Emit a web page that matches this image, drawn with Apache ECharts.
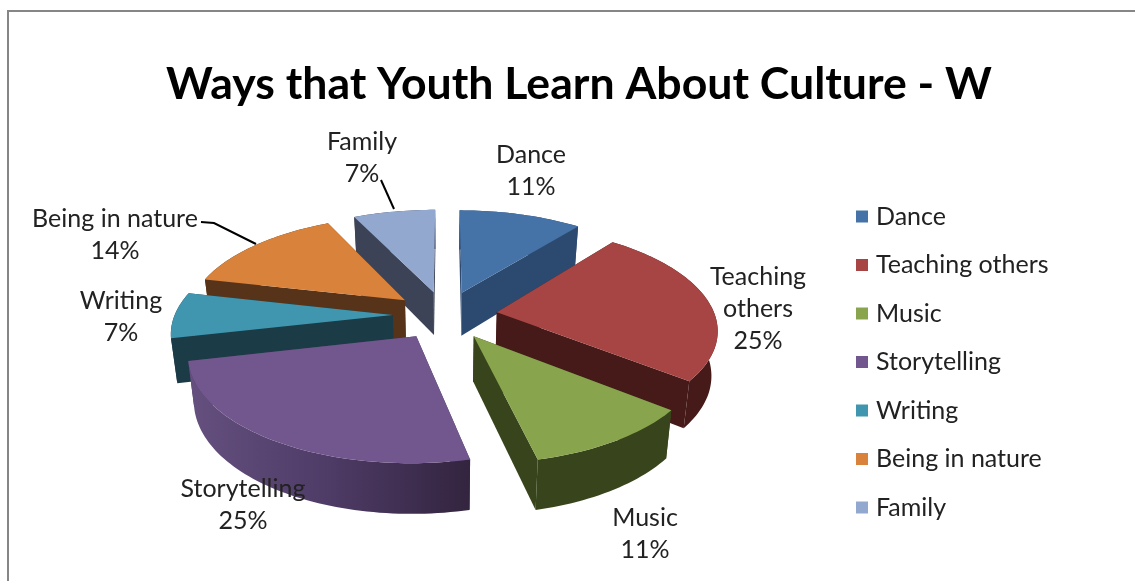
<!DOCTYPE html>
<html><head><meta charset="utf-8">
<style>html,body{margin:0;padding:0;background:#fff}#c{width:1135px;height:581px}</style>
<script src="https://cdn.jsdelivr.net/npm/echarts@6/dist/echarts.min.js"></script>
</head><body><div id="c"></div>
<script>
const chartTitle = 'Ways that Youth Learn About Culture - W';
const categories = ['Dance','Teaching others','Music','Storytelling','Writing','Being in nature','Family'];
const shares = [3,7,3,7,2,4,2];
const topColors = ['#4572A7','#A64543','#88A44C','#71578D','#3F96AE','#D8823B','#93A8CF'];
const wallColors = ['#2C4A70','#451A18','#38451C','#4A3660','#1B3B47','#57331A','#3C4356'];
const labelLines = [['Dance'],['Teaching','others'],['Music'],['Storytelling'],['Writing'],['Being in nature'],['Family']];
const labelAnchors = [[531,155],[758,277],[645,518],[243,489],[121,301],[115,219],[362,142]];

// perspective view of the exploded pie
const V = {cx:445, cy:315, a:218, b:101, p:0.15, e:0.24, d:44, taper:0.977};
const total = shares.reduce((s,v)=>s+v,0);
const starts = shares.map((_,i)=>shares.slice(0,i).reduce((s,v)=>s+v,0));
function project(u,v,down){
  const w = 1 - V.p*v;
  const drop = down ? V.d*Math.pow(w,-0.7) : 0;
  const k = down ? V.taper : 1;
  return [V.cx + k*V.a*u/w, V.cy + V.b*v/w + drop];
}
function renderSlice(params, api){
  const a0 = api.value(0)/total*2*Math.PI, a1 = (api.value(0)+api.value(1))/total*2*Math.PI;
  const i = params.seriesIndex, mid = (a0+a1)/2;
  const ox = V.e*Math.sin(mid), oy = -V.e*Math.cos(mid);
  const rim = (t,down)=>project(ox+Math.sin(t),oy-Math.cos(t),down);
  const apex = down=>project(ox,oy,down);
  const n = Math.max(12,Math.round((a1-a0)*40));
  const arcT=[]; for(let k=0;k<=n;k++) arcT.push(a0+(a1-a0)*k/n);
  const children=[];
  const radial=t=>({type:'polygon',shape:{points:[apex(false),rim(t,false),rim(t,true),apex(true)]},style:{fill:wallColors[i]}});
  const ends=[a0,a1].sort((x,y)=>Math.cos(y)-Math.cos(x));
  ends.forEach(t=>children.push(radial(t)));
  const outer=arcT.map(t=>rim(t,false)).concat(arcT.slice().reverse().map(t=>rim(t,true)));
  let fill=wallColors[i];
  if(categories[i]==='Storytelling'){
    fill={type:'linear',x:0,y:0,x2:1,y2:0,colorStops:[{offset:0,color:'#65507F'},{offset:0.5,color:'#4E3B66'},{offset:1,color:'#33243F'}]};
  }
  children.push({type:'polygon',shape:{points:outer},style:{fill}});
  children.push({type:'polygon',shape:{points:[apex(false)].concat(arcT.map(t=>rim(t,false)))},style:{fill:topColors[i]}});
  return {type:'group',children};
}
const series = categories.map((name,i)=>{
  const mid=(starts[i]+shares[i]/2)/total*2*Math.PI;
  return {type:'custom',name,coordinateSystem:'none',renderItem:renderSlice,
    z:2+Math.round((1-Math.cos(mid))*10),
    itemStyle:{color:topColors[i]},animation:false,silent:true,
    data:[[starts[i],shares[i]]]};
});
const FONT='Lato';
const textGraphics=[];
categories.forEach((c,i)=>{
  const lines=labelLines[i].concat([Math.round(shares[i]/total*100)+'%']);
  lines.forEach((t,k)=>{
    textGraphics.push({type:'text',z:100,x:labelAnchors[i][0],y:labelAnchors[i][1]+k*32,
      style:{text:t,textAlign:'center',textVerticalAlign:'middle',font:'25px '+FONT,fill:'#222'}});
  });
});
const frame={type:'polyline',z:1,shape:{points:[[8,581],[8,11],[1135,11]]},style:{stroke:'#868686',lineWidth:2,fill:'none'}};
const leaders=[
  {type:'polyline',z:99,shape:{points:[[201,222],[214,223],[256,244]]},style:{stroke:'#000',lineWidth:2,fill:'none'}},
  {type:'polyline',z:99,shape:{points:[[381,180],[394,209]]},style:{stroke:'#000',lineWidth:2,fill:'none'}}
];
const chart=echarts.init(document.getElementById('c'),null,{renderer:'canvas'});
chart.setOption({
  animation:false,backgroundColor:'#fff',
  title:{text:chartTitle,left:574,top:80,textAlign:'center',textVerticalAlign:'middle',
    textStyle:{fontFamily:FONT,fontWeight:'bold',fontSize:44.6,color:'#000'}},
  legend:{orient:'vertical',left:856,top:204,data:categories,icon:'rect',itemWidth:12,itemHeight:12,itemGap:23.5,
    selectedMode:false,textStyle:{fontFamily:FONT,fontSize:25,color:'#222',padding:[0,0,0,3]},padding:0},
  graphic:{elements:[frame,...leaders,...textGraphics]},
  series
});
</script></body></html>
